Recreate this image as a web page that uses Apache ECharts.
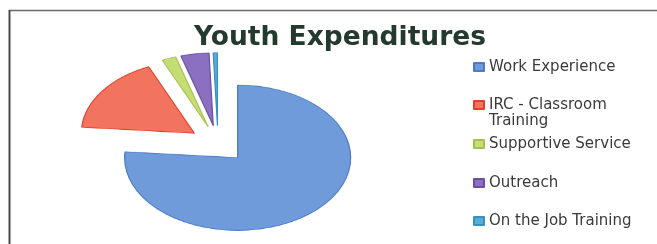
<!DOCTYPE html>
<html>
<head>
<meta charset="utf-8">
<script src="https://cdn.jsdelivr.net/npm/echarts@6/dist/echarts.min.js"></script>
<style>
  html, body { margin: 0; padding: 0; background: #ffffff; }
  #wrap { position: relative; width: 657px; height: 244px; overflow: hidden; }
  #pie { position: absolute; left: 58px; top: -16px; width: 320px; height: 320px;
         transform: scaleY(0.643); transform-origin: 50% 50%; }
  #main { position: absolute; left: 0; top: 0; width: 657px; height: 244px; }
</style>
</head>
<body>
<div id="wrap">
  <div id="pie"></div>
  <div id="main"></div>
</div>
<script>
// ---- data ----
const titleText = 'Youth Expenditures';
const categories = ['Work Experience', 'IRC - Classroom Training', 'Supportive Service', 'Outreach', 'On the Job Training'];
const legendLabels = ['Work Experience', ' \nIRC - Classroom\nTraining', 'Supportive Service', 'Outreach', 'On the Job Training'];
const values = [76, 17, 2, 4, 0.6];
const fillColors = ['#6F9BDB', '#F2735E', '#C5DD75', '#8B6FC0', '#55ADD8'];
const borderColors = ['#4A7BC4', '#E0412F', '#A6C24E', '#6A4FA3', '#3A8FBE'];

function buildData() {
  return categories.map((name, i) => ({
    name: name,
    value: values[i],
    selected: true,
    itemStyle: { color: fillColors[i], borderColor: borderColors[i], borderWidth: 1.2 }
  }));
}

// ---- elliptical pie (scaled vertically by CSS) ----
const pieChart = echarts.init(document.getElementById('pie'));
pieChart.setOption({
  animation: false,
  series: [{
    type: 'pie',
    center: ['50%', '50%'],
    radius: 113,
    startAngle: 90,
    clockwise: true,
    selectedMode: 'multiple',
    selectedOffset: 29,
    label: { show: false },
    labelLine: { show: false },
    emphasis: { scale: false },
    data: buildData()
  }]
});

// ---- title, legend, frame ----
const chart = echarts.init(document.getElementById('main'));
const legendTops = [58, 80, 135, 174, 212];
const legends = categories.map((name, i) => ({
  orient: 'vertical',
  left: 473,
  top: legendTops[i] + 1,
  padding: 0,
  itemWidth: 10,
  itemHeight: 8,
  icon: 'rect',
  selectedMode: false,
  data: [name],
  formatter: () => legendLabels[i],
  textStyle: {
    fontFamily: 'DejaVu Sans',
    fontSize: 15,
    color: '#3a3a3a',
    lineHeight: 16
  }
}));

chart.setOption({
  animation: false,
  title: {
    text: titleText,
    left: 189,
    top: 20,
    textStyle: { fontFamily: 'DejaVu Sans', fontWeight: 'bold', fontSize: 26.5, color: '#243A2E' }
  },
  legend: legends,
  graphic: [
    { type: 'line', shape: { x1: 9, y1: 10.5, x2: 657, y2: 10.5 }, style: { stroke: '#6a6a6a', lineWidth: 1.5 } },
    { type: 'line', shape: { x1: 9.5, y1: 10, x2: 9.5, y2: 244 }, style: { stroke: '#4a4a4a', lineWidth: 2 } }
  ],
  series: [{
    type: 'pie',
    radius: 0,
    center: [-50, -50],
    silent: true,
    label: { show: false },
    labelLine: { show: false },
    data: buildData()
  }]
});
</script>
</body>
</html>
